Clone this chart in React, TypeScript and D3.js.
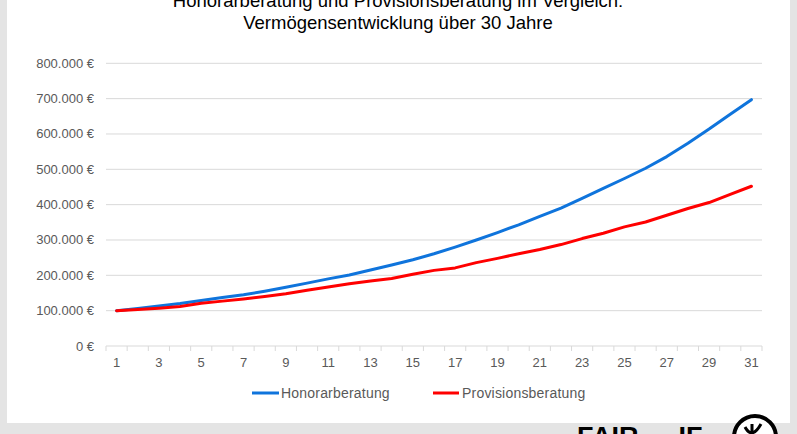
import React from "react";
import * as d3 from "d3";

const years: number[] = d3.range(1, 32);
const honorar: number[] = [100000, 106000, 113000, 120000, 129000, 137000, 145000, 155000, 166000, 178000, 190000, 201000, 215000, 229000, 244000, 261000, 280000, 300000, 321000, 343000, 367000, 390000, 418000, 446000, 474000, 503000, 536000, 574000, 614000, 656000, 697000];
const provision: number[] = [100000, 103000, 107000, 112000, 121000, 127000, 133000, 140000, 148000, 158000, 167000, 176000, 184000, 191000, 203000, 214000, 221000, 236000, 248000, 261000, 273000, 287000, 304000, 319000, 337000, 351000, 370000, 389000, 406000, 429000, 452000];
const yTicks: number[] = [0, 100000, 200000, 300000, 400000, 500000, 600000, 700000, 800000];
const seriesNames: string[] = ["Honorarberatung", "Provisionsberatung"];
const titleLines: string[] = ["Honorarberatung und Provisionsberatung im Vergleich:", "Vermögensentwicklung über 30 Jahre"];

const W = 797;
const H = 434;
const FONT = "'Liberation Sans', Arial, sans-serif";
const BLUE = "#0F74DC";
const RED = "#FF0000";
const GRID = "#d9d9d9";
const TEXT = "#595959";

const locale = d3.formatLocale({ decimal: ",", thousands: ".", grouping: [3], currency: ["", " €"] });
const fmt = locale.format(",d");

export default function App() {
  const x = d3.scaleBand<number>().domain(years).range([106, 762]).paddingInner(0).paddingOuter(0);
  const y = d3.scaleLinear().domain([0, 800000]).range([346, 63.3]);
  const cx = (d: number) => (x(d) as number) + x.bandwidth() / 2;
  const line = d3.line<number>().x((_, i) => cx(years[i])).y((d) => y(d));
  const boundaries = [...years.map((d) => x(d) as number), 762];

  return (
    <svg width={W} height={H} style={{ position: "absolute", left: 0, top: 0 }} fontFamily={FONT}>
      <rect x={0} y={0} width={W} height={H} fill="#e4e4e4" />
      <rect x={7} y={0} width={783} height={423} fill="#ffffff" />
      {titleLines.map((t, i) => (
        <text key={i} x={398} y={7 + i * 22} textAnchor="middle" fontSize={18.5} fill="#000">{t}</text>
      ))}
      {yTicks.map((t) => (
        <g key={t}>
          {t > 0 && <line x1={106} x2={762} y1={y(t)} y2={y(t)} stroke={GRID} strokeWidth={1} />}
          <text x={94} y={y(t) + 4.5} textAnchor="end" fontSize={13} fill={TEXT}>{fmt(t) + " €"}</text>
        </g>
      ))}
      <line x1={106} x2={762} y1={346} y2={346} stroke={GRID} strokeWidth={1} />
      {boundaries.map((b, i) => (
        <line key={i} x1={b} x2={b} y1={346} y2={351} stroke={GRID} strokeWidth={1} />
      ))}
      {years.filter((d) => d % 2 === 1).map((d) => (
        <text key={d} x={cx(d)} y={367} textAnchor="middle" fontSize={13} fill={TEXT}>{d}</text>
      ))}
      <path d={line(honorar) || ""} fill="none" stroke={BLUE} strokeWidth={3} strokeLinejoin="round" strokeLinecap="round" />
      <path d={line(provision) || ""} fill="none" stroke={RED} strokeWidth={3} strokeLinejoin="round" strokeLinecap="round" />
      <line x1={252} x2={279} y1={393} y2={393} stroke={BLUE} strokeWidth={3} />
      <text x={281} y={398} fontSize={14} fill={TEXT} letterSpacing={0.2}>{seriesNames[0]}</text>
      <line x1={433} x2={459} y1={393} y2={393} stroke={RED} strokeWidth={3} />
      <text x={462} y={398} fontSize={14} fill={TEXT} letterSpacing={0.2}>{seriesNames[1]}</text>
      <text x={577} y={446} fontSize={27} fontWeight="bold" fill="#000">FAIR<tspan fontSize={20} dy={4}>vest</tspan><tspan fontSize={27} dy={-4}>IF</tspan></text>
      <circle cx={755} cy={437} r={21} fill="#ffffff" stroke="#000" strokeWidth={4} />
      <path d="M752,424 L752,434 M745,427 Q752,440 761,424" fill="none" stroke="#000" strokeWidth={3} />
    </svg>
  );
}
